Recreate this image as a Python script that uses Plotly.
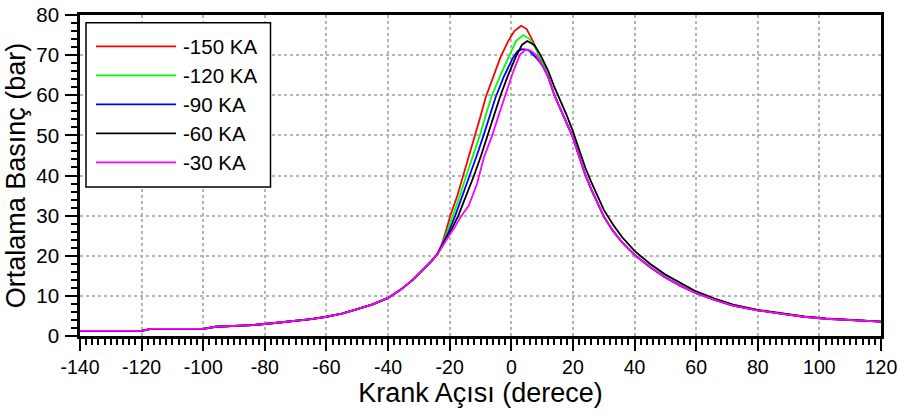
import plotly.graph_objects as go

# ---------------- data ----------------
series_names = ["-150 KA", "-120 KA", "-90 KA", "-60 KA", "-30 KA"]

x_tick_vals = [-140, -120, -100, -80, -60, -40, -20, 0, 20, 40, 60, 80, 100, 120]
x_tick_text = ["-140", "-120", "-100", "-80", "-60", "-40", "-20", "0", "20", "40", "60", "80", "100", "120"]
y_tick_vals = [0, 10, 20, 30, 40, 50, 60, 70, 80]
y_tick_text = ["0", "10", "20", "30", "40", "50", "60", "70", "80"]

# common compression part (all curves coincide)
x_pre = [-140, -120, -117, -100, -96, -84, -76, -70, -65, -60, -55, -50, -45, -40, -36, -32, -28, -26, -24]
y_pre = [1.3, 1.3, 1.8, 1.8, 2.3, 2.7, 3.3, 3.7, 4.2, 4.8, 5.6, 6.7, 7.9, 9.5, 11.5, 14.0, 17.0, 18.6, 20.4]

# combustion / peak part, per series
red_x = [-22.5, -21.2, -19.8, -17.5, -15.6, -13.5, -11.6, -9.9, -8.3, -6.2, -3.5, -1.0, 1.0, 3.2, 5.0, 7.0, 8.5, 10.0, 12.0]
red_y = [23.0, 26.2, 30.0, 35.0, 40.0, 45.0, 50.0, 55.0, 59.5, 64.0, 69.5, 73.5, 76.0, 77.3, 76.5, 73.5, 70.5, 68.0, 64.5]

green_x = [-22.4, -20.8, -18.9, -16.7, -14.6, -12.4, -10.2, -8.3, -6.5, -3.8, -0.8, 1.5, 3.9, 6.0, 8.0, 10.0, 12.0]
green_y = [22.9, 26.0, 30.0, 35.0, 40.0, 45.0, 50.0, 55.0, 59.5, 64.5, 69.5, 73.5, 75.0, 74.0, 71.5, 68.5, 64.5]

blue_x = [-22.3, -20.4, -18.2, -15.8, -13.5, -11.2, -9.0, -7.0, -5.1, -2.5, 0.5, 2.0, 3.5, 5.5, 7.0, 8.5, 10.0, 12.0]
blue_y = [22.8, 25.8, 30.0, 35.0, 40.0, 45.0, 50.0, 55.0, 59.5, 64.5, 69.3, 71.0, 71.5, 71.3, 70.2, 69.0, 67.5, 64.5]

black_x = [-22.2, -19.9, -17.2, -14.6, -12.1, -9.8, -7.6, -5.6, -3.7, -1.3, 1.4, 3.5, 5.2, 7.5, 9.5, 12.0]
black_y = [22.7, 25.8, 30.0, 35.0, 40.0, 45.0, 50.0, 55.0, 59.5, 64.5, 69.5, 72.6, 73.5, 72.5, 70.0, 66.0]

magenta_x = [-22.2, -20.2, -18.3, -16.4, -13.8, -11.1, -8.9, -6.2, -4.1, -1.9, 0.2, 2.7, 4.6, 6.5, 8.0, 10.0, 12.0]
magenta_y = [22.7, 25.0, 27.2, 29.7, 32.5, 38.0, 44.5, 50.0, 55.0, 60.0, 65.0, 70.0, 71.4, 71.0, 70.0, 67.5, 64.5]

# expansion part
tail_x = [14, 16, 18, 20, 22, 24, 26, 28, 30, 33, 36, 40, 45, 50, 55, 60, 66, 72, 80, 88, 95, 102, 110, 120]
tail_y = [60.0, 56.5, 53.0, 49.5, 44.8, 40.2, 36.5, 33.0, 29.8, 26.2, 23.3, 20.2, 17.2, 14.6, 12.5, 10.7,
          9.0, 7.6, 6.4, 5.5, 4.8, 4.3, 4.0, 3.6]
black_tail_y = [62.0, 58.5, 55.0, 51.0, 46.5, 42.0, 38.3, 34.8, 31.5, 27.8, 24.6, 21.2, 18.0, 15.3, 13.1, 11.1,
                9.3, 7.8, 6.5, 5.6, 4.9, 4.4, 4.0, 3.6]

peak_x = [red_x, green_x, blue_x, black_x, magenta_x]
peak_y = [red_y, green_y, blue_y, black_y, magenta_y]
tails_y = [tail_y, tail_y, tail_y, black_tail_y, tail_y]

colors = ["#FF0000", "#00FF00", "#0000FF", "#000000", "#FF00FF"]

FONT = "Liberation Sans, Arial, sans-serif"

fig = go.Figure()
for name, c, px_, py_, ty in zip(series_names, colors, peak_x, peak_y, tails_y):
    fig.add_trace(go.Scatter(
        x=x_pre + px_ + tail_x,
        y=y_pre + py_ + ty,
        mode="lines", name=name, showlegend=False,
        line=dict(color=c, width=1.8),
    ))

# ---------------- manual legend (pixel layout converted to paper) ----------------
L, R, T, B = 80, 881, 15, 336
W, H = R - L, B - T
def px(x): return (x - L) / W
def py(y): return (B - y) / H

shapes = [dict(type="rect", xref="paper", yref="paper",
               x0=px(86), x1=px(270.5), y0=py(187), y1=py(22.7),
               line=dict(color="black", width=1.5), fillcolor="white", layer="above")]
annotations = []
for i, (name, c) in enumerate(zip(series_names, colors)):
    yy = py(46.3 + i * 29.0)
    shapes.append(dict(type="line", xref="paper", yref="paper",
                       x0=px(96), x1=px(176), y0=yy, y1=yy,
                       line=dict(color=c, width=1.8), layer="above"))
    annotations.append(dict(xref="paper", yref="paper", x=px(181), y=yy,
                            xanchor="left", yanchor="middle", showarrow=False,
                            text=name, font=dict(family=FONT, size=20.5, color="black")))

axis_common = dict(
    showline=True, linecolor="black", linewidth=2.5, mirror=True,
    ticks="outside", ticklen=12, tickwidth=2, tickcolor="black",
    showgrid=True, gridcolor="#b4b4b4", griddash="dot", gridwidth=1.5,
    zeroline=False, tickmode="array",
)

fig.update_layout(
    width=898, height=413,
    margin=dict(l=L, r=898 - R, t=T, b=413 - B, autoexpand=False),
    plot_bgcolor="white", paper_bgcolor="white",
    shapes=shapes, annotations=annotations,
    xaxis=dict(range=[-140, 120], tickvals=x_tick_vals, ticktext=x_tick_text,
               minor=dict(dtick=2, tick0=-140, ticks="outside", ticklen=6, tickwidth=1.5, tickcolor="black", showgrid=False),
               ticklabelstandoff=0,
               tickfont=dict(family=FONT, size=19.5, color="black"),
               title=dict(text="Krank Açısı (derece)", font=dict(family=FONT, size=27, color="black"), standoff=2),
               **axis_common),
    yaxis=dict(range=[0, 80], tickvals=y_tick_vals, ticktext=y_tick_text,
               minor=dict(dtick=2, tick0=0, ticks="outside", ticklen=6, tickwidth=1.5, tickcolor="black", showgrid=False),
               ticklabelstandoff=2,
               tickfont=dict(family=FONT, size=20.5, color="black"),
               title=dict(text="Ortalama Basınç (bar)", font=dict(family=FONT, size=27, color="black"), standoff=3),
               **axis_common),
)

fig.write_html("out.html", config={"displayModeBar": False},
               post_script="document.body.style.margin='0';document.body.style.padding='0';")
